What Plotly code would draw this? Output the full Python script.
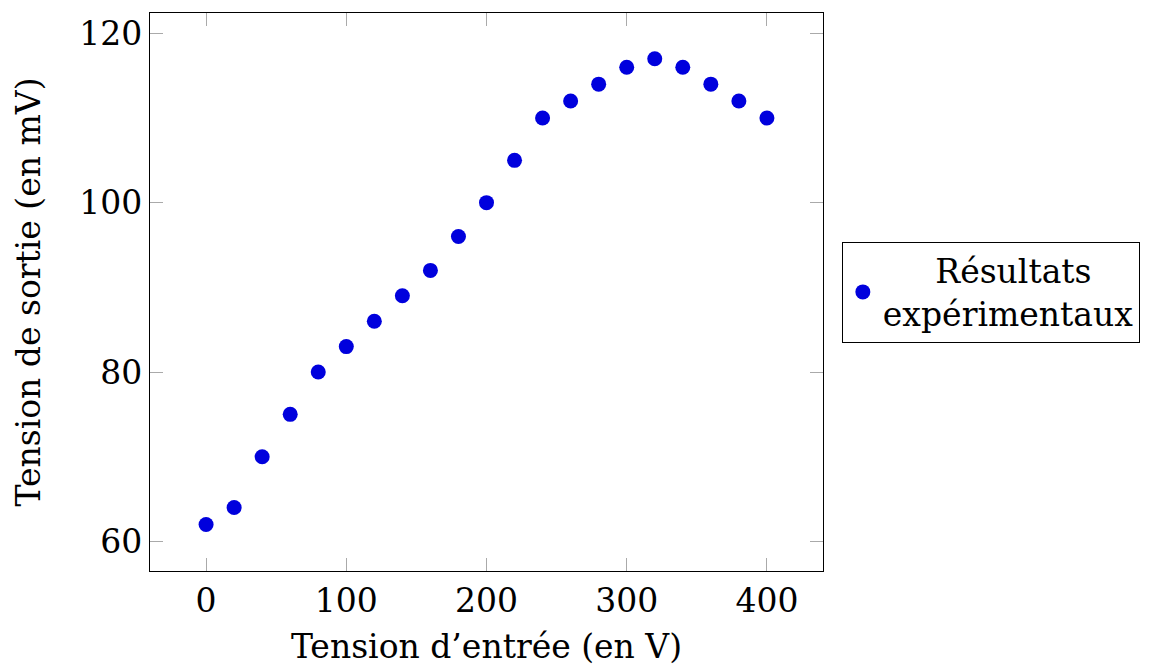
import plotly.graph_objects as go

x_vals = [0, 20, 40, 60, 80, 100, 120, 140, 160, 180, 200, 220, 240, 260, 280, 300, 320, 340, 360, 380, 400]
y_vals = [62, 64, 70, 75, 80, 83, 86, 89, 92, 96, 100, 105, 110, 112, 114, 116, 117, 116, 114, 112, 110]
x_ticks = [0, 100, 200, 300, 400]
y_ticks = [60, 80, 100, 120]

FONT = "DejaVu Serif"
FS = 33
fig = go.Figure()
fig.add_trace(go.Scatter(
    x=x_vals, y=y_vals, mode="markers",
    marker=dict(color="#0000dd", size=15),
    name="&nbsp;&nbsp;&nbsp;&nbsp;&nbsp;Résultats<br>expérimentaux",
))
axis_common = dict(
    showgrid=False, zeroline=False, showline=True, linecolor="black", linewidth=1.3,
    mirror="allticks", ticks="inside", ticklen=13, tickcolor="#aaaaaa", tickwidth=1.2,
    tickfont=dict(family=FONT, size=FS, color="black"),
)
fig.update_xaxes(range=[-40, 440], tickvals=x_ticks,
                 title=dict(text="Tension d’entrée (en V)", font=dict(family=FONT, size=FS, color="black"), standoff=16),
                 **axis_common)
fig.update_yaxes(range=[56.5, 122.4], tickvals=y_ticks,
                 title=dict(text="Tension de sortie (en mV)", font=dict(family=FONT, size=FS, color="black"), standoff=28),
                 **axis_common)
fig.update_layout(
    width=1153, height=667,
    margin=dict(l=142, r=338, t=5, b=104),
    plot_bgcolor="white", paper_bgcolor="white",
    showlegend=True,
    legend=dict(x=1.028, y=0.5, xanchor="left", yanchor="middle",
                bordercolor="black", borderwidth=1, bgcolor="white",
                font=dict(family=FONT, size=FS, color="black"),
                itemwidth=30),
)
fig.write_html("out.html")
